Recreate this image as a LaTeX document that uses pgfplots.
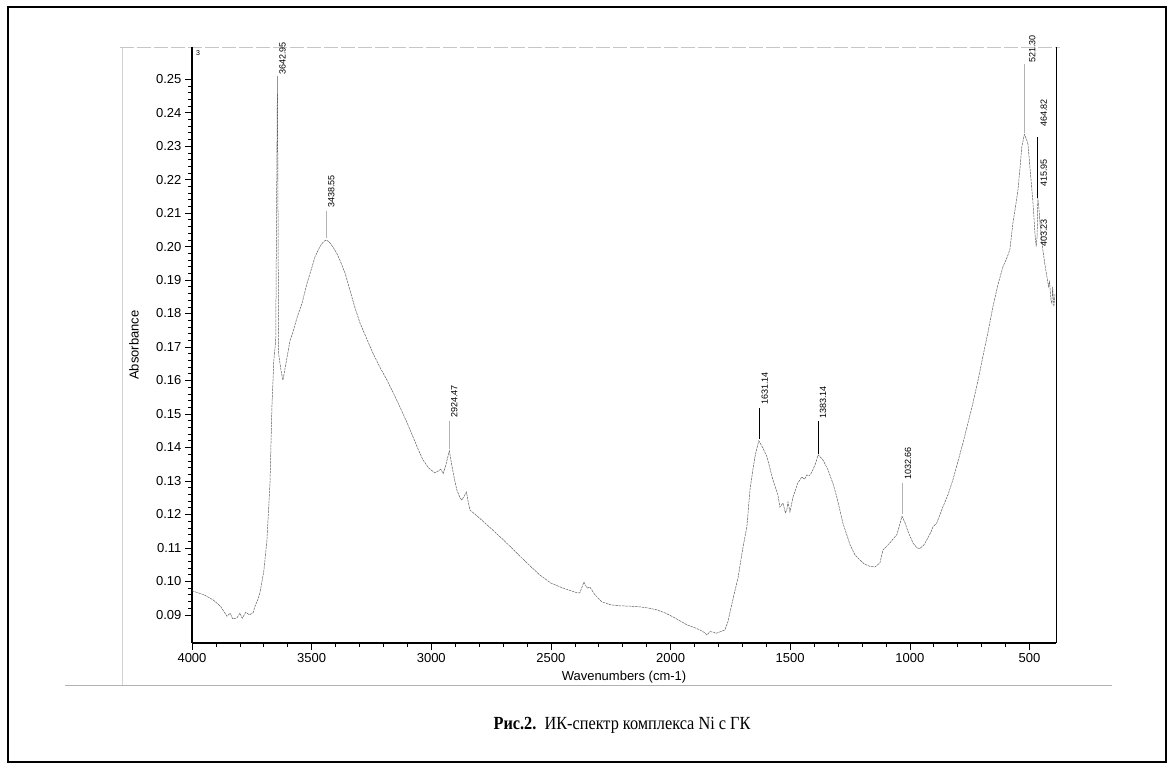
\documentclass[border=0pt]{standalone}
\usepackage{fontspec}
\setmainfont{Liberation Serif}
\newfontfamily\arial{Liberation Sans}
\usepackage{pgfplots}
\usepackage{pgfplotstable}
\pgfplotsset{compat=1.18}
\pgfplotstableread{
wn a
4000 0.0972
3950 0.0960
3912 0.0945
3880 0.0925
3854 0.0896
3840 0.0905
3830 0.0888
3812 0.0891
3800 0.0905
3790 0.0890
3775 0.0908
3760 0.0900
3745 0.0906
3737 0.0925
3725 0.0945
3716 0.0966
3700 0.1030
3687 0.1120
3674 0.1294
3666 0.1520
3658 0.1660
3650 0.1720
3642.95 0.2510
3638 0.1680
3628 0.1630
3620 0.1601
3605 0.1660
3590 0.1720
3578 0.1745
3560 0.1790
3540 0.1831
3519 0.1891
3500 0.1935
3486 0.1969
3465 0.2000
3450 0.2015
3438.55 0.2020
3425 0.2012
3411 0.1999
3395 0.1980
3382 0.1960
3360 0.1920
3340 0.1870
3320 0.1820
3298 0.1772
3270 0.1725
3244 0.1682
3215 0.1640
3185 0.1601
3160 0.1565
3131 0.1521
3100 0.1472
3076 0.1431
3055 0.1395
3035 0.1363
3010 0.1338
2985 0.1324
2970 0.1330
2960 0.1335
2950 0.1322
2940 0.1345
2924.47 0.1390
2913 0.1342
2900 0.1295
2893 0.1273
2880 0.1250
2872 0.1243
2862 0.1255
2853 0.1267
2845 0.1235
2838 0.1213
2800 0.1190
2750 0.1158
2700 0.1125
2650 0.1090
2600 0.1055
2546 0.1019
2500 0.0995
2450 0.0980
2391 0.0966
2379 0.0966
2362 0.0998
2349 0.0980
2337 0.0983
2316 0.0960
2287 0.0939
2250 0.0930
2211 0.0927
2170 0.0926
2128 0.0924
2090 0.0920
2057 0.0915
2020 0.0905
1990 0.0894
1960 0.0882
1931 0.0870
1900 0.0862
1877 0.0855
1860 0.0848
1848 0.0840
1835 0.0850
1823 0.0849
1810 0.0845
1794 0.0849
1773 0.0855
1760 0.0880
1752 0.0906
1735 0.0960
1718 0.1010
1697 0.1103
1681 0.1163
1668 0.1273
1656 0.1333
1645 0.1380
1631.14 0.1420
1615 0.1400
1597 0.1372
1572 0.1303
1551 0.1258
1543 0.1222
1530 0.1234
1520 0.1205
1514 0.1213
1509 0.1237
1501 0.1207
1488 0.1252
1468 0.1294
1451 0.1312
1440 0.1305
1430 0.1318
1420 0.1315
1409 0.1327
1395 0.1350
1383.14 0.1378
1363 0.1363
1342 0.1333
1320 0.1290
1305 0.1252
1280 0.1175
1250 0.1110
1230 0.1080
1209 0.1064
1190 0.1052
1167 0.1045
1146 0.1043
1125 0.1055
1112 0.1094
1083 0.1115
1054 0.1140
1040 0.1175
1032.66 0.1195
1020 0.1175
1008 0.1150
987 0.1115
970 0.1100
958 0.1098
940 0.1110
929 0.1124
910 0.1150
903 0.1163
887 0.1175
862 0.1222
840 0.1260
820 0.1303
800 0.1355
778 0.1413
757 0.1473
736 0.1533
715 0.1600
695 0.1670
673 0.1745
653 0.1819
632 0.1885
611 0.1939
595 0.1965
582 0.1990
569 0.2070
558 0.2120
548 0.2169
540 0.2230
532 0.2297
521.30 0.2335
512 0.2320
506 0.2305
498 0.2237
486 0.2139
477 0.2040
472 0.2000
468 0.2030
464.82 0.2145
460 0.2110
456 0.2070
444 0.1990
434 0.1940
427 0.1910
420 0.1880
415.95 0.1895
410 0.1840
406 0.1830
403.23 0.1880
398 0.1820
393 0.1860
}\spectrum

\begin{document}
\begin{tikzpicture}[x=1pt,y=1pt]
\useasboundingbox (0,0) rectangle (1174,769);
\draw[line width=1.2pt] (8,7) rectangle (1166,762);
\draw[gray!60, line width=0.8pt] (65,84) -- (1112,84);
\draw[gray!35, line width=0.6pt] (122,84) -- (122,722);
\draw[gray!45, line width=0.8pt, dash pattern=on 14pt off 3pt] (120,722) -- (1060,722);
\begin{axis}[
  at={(192pt,126pt)}, anchor=south west,
  scale only axis, width=864pt, height=596pt,
  x dir=reverse, xmin=389, xmax=4000, ymin=0.0816, ymax=0.2596,
  axis line style={draw=none},
  xtick={500,1000,1500,2000,2500,3000,3500,4000},
  ytick={0.09,0.10,0.11,0.12,0.13,0.14,0.15,0.16,0.17,0.18,0.19,0.20,0.21,0.22,0.23,0.24,0.25},
  minor x tick num=4, minor y tick num=4,
  tick align=outside, xtick pos=bottom, ytick pos=left,
  major tick length=7pt, minor tick length=3.5pt,
  tick style={black, line width=0.6pt},
  scaled y ticks=false,
  /pgf/number format/assume math mode=true,
  yticklabel style={/pgf/number format/.cd, fixed, fixed zerofill, precision=2, assume math mode=true, /tikz/.cd, font=\arial\fontsize{13}{15}\selectfont},
  xticklabel style={/pgf/number format/.cd, 1000 sep={}, assume math mode=true, /tikz/.cd, font=\arial\fontsize{13}{15}\selectfont},
  xlabel={Wavenumbers (cm-1)},
  ylabel={Absorbance},
  every axis x label/.style={at={(axis description cs:0.5,-0.057)}, anchor=center, font=\arial\fontsize{13}{15}\selectfont},
  every axis y label/.style={at={(axis description cs:-0.0671,0.5)}, anchor=center, rotate=90, font=\arial\fontsize{13}{15}\selectfont},
  clip=false,
]
\draw[black, line width=2pt] (rel axis cs:0,0) -- (rel axis cs:0,1);
\draw[black, line width=1.2pt] (rel axis cs:0,0) -- (rel axis cs:1,0);
\draw[black, line width=0.8pt] (rel axis cs:1,0) -- (rel axis cs:1,1);
\addplot[gray!75!black, line width=0.5pt, dash pattern=on 2.5pt off 0.8pt] table[x=wn,y=a]{\spectrum};
% peak markers
\draw[gray!60, line width=0.5pt] (axis cs:3438.55,0.2025) -- (axis cs:3438.55,0.2105);
\draw[gray!60, line width=0.5pt] (axis cs:2924.47,0.1395) -- (axis cs:2924.47,0.1480);
\draw[black, line width=0.5pt] (axis cs:1631.14,0.1425) -- (axis cs:1631.14,0.1517);
\draw[black, line width=0.5pt] (axis cs:1383.14,0.1380) -- (axis cs:1383.14,0.1478);
\draw[gray!60, line width=0.5pt] (axis cs:1032.66,0.1200) -- (axis cs:1032.66,0.1295);
\draw[gray!60, line width=0.5pt] (axis cs:521.30,0.2340) -- (axis cs:521.30,0.2545);
\draw[black, line width=0.8pt] (axis cs:464.82,0.2145) -- (axis cs:464.82,0.2327);
\begin{scope}[every node/.style={rotate=90, anchor=west, inner sep=0pt, font=\arial\fontsize{9}{10}\selectfont}]
\node at ([xshift=5pt]axis cs:3642.95,0.2512) {3642.95};
\node at ([xshift=5pt]axis cs:3438.55,0.2115) {3438.55};
\node at ([xshift=5pt]axis cs:2924.47,0.1488) {2924.47};
\node at ([xshift=6pt]axis cs:1631.14,0.1527) {1631.14};
\node at ([xshift=5pt]axis cs:1383.14,0.1485) {1383.14};
\node at ([xshift=6pt]axis cs:1032.66,0.1303) {1032.66};
\node at ([xshift=8pt]axis cs:521.30,0.2548) {521.30};
\node at ([xshift=6pt]axis cs:464.82,0.2357) {464.82};
\node at ([xshift=6pt]axis cs:464.82,0.2178) {415.95};
\node at ([xshift=6pt]axis cs:464.82,0.1999) {403.23};
\end{scope}
\node[anchor=north west, inner sep=0pt, font=\arial\fontsize{7}{8}\selectfont] at ([xshift=4pt,yshift=-3pt]rel axis cs:0,1) {3};
\end{axis}
\node at (622,44) {\scalebox{0.88}[1]{\fontsize{18.5}{22}\selectfont\textbf{Рис.2.}\ \ ИК-спектр комплекса Ni с ГК}};
\end{tikzpicture}
\end{document}
